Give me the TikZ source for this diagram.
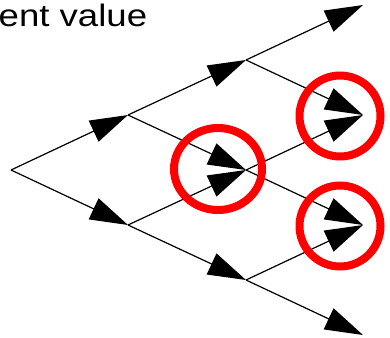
\documentclass[tikz,border=0pt]{standalone}
\usepackage{fontspec}
\usepackage{graphicx}
\setmainfont{Liberation Sans}
\usetikzlibrary{arrows.meta}
\begin{document}
\begin{tikzpicture}[x=1pt,y=-1pt,
  edge/.style={draw=black,line width=1.2pt,-{Triangle[length=38pt,width=23pt]}},
  ring/.style={draw=red,line width=8pt}]
\useasboundingbox (0,0) rectangle (390,337);
\node[anchor=base west,inner sep=0pt,font=\fontsize{31}{31}\selectfont] (lbl) at (-1.5,27) {\scalebox{1.18}[1]{ent value}};
\coordinate (r) at (11,170);
\coordinate (a) at (128,115);
\coordinate (b) at (128,225);
\coordinate (c) at (246,60);
\coordinate (d) at (246,170);
\coordinate (e) at (246,280);
\coordinate (f) at (363,5);
\coordinate (g) at (363,115);
\coordinate (h) at (363,225);
\coordinate (i) at (363,335);
\draw[edge] (r) -- (a);
\draw[edge] (r) -- (b);
\draw[edge] (a) -- (c);
\draw[edge] (a) -- (d);
\draw[edge] (b) -- (d);
\draw[edge] (b) -- (e);
\draw[edge] (c) -- (f);
\draw[edge] (c) -- (g);
\draw[edge] (d) -- (g);
\draw[edge] (d) -- (h);
\draw[edge] (e) -- (h);
\draw[edge] (e) -- (i);
\draw[ring] (218,169) ellipse [x radius=44, y radius=41];
\draw[ring] (340,116) circle [radius=40.5];
\draw[ring] (340,226) circle [radius=40.5];
\end{tikzpicture}
\end{document}
